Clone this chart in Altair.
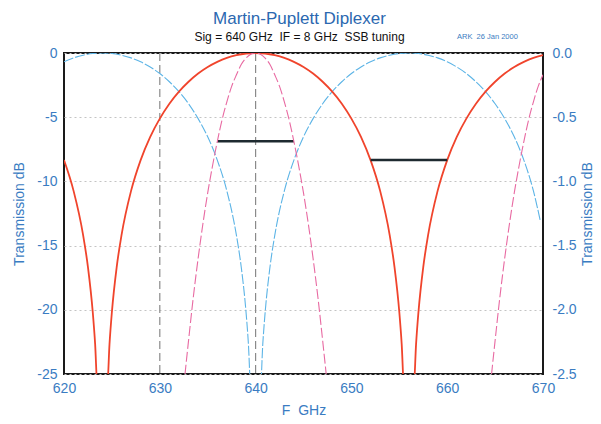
import altair as alt
import pandas as pd

# Signal-port transmission (dB), left axis
red_f = [620, 621, 622, 622.5, 623, 623.25, 623.5, 624.5, 624.75, 625, 625.5, 626, 627, 628, 629,
         630, 631, 632, 633, 634, 635, 636, 637, 638, 639, 640, 641, 642, 643, 644, 645, 646, 647,
         648, 649, 650, 651, 652, 653, 654, 654.5, 655, 655.25, 655.5, 656.5, 656.75, 657, 657.5,
         658, 659, 660, 661, 662, 663, 664, 665, 666, 667, 668, 669, 670]
red_db = [-8.34, -10.74, -14.20, -16.67, -20.17, -22.67, -26.18, -26.18, -22.67, -20.17, -16.67, -14.20,
          -10.74, -8.34, -6.53, -5.11, -3.95, -3.01, -2.24, -1.60, -1.09, -0.69, -0.38, -0.17, -0.04,
          0.0, -0.04, -0.17, -0.38, -0.69, -1.09, -1.60, -2.24, -3.01, -3.95, -5.11, -6.53, -8.34,
          -10.74, -14.20, -16.67, -20.17, -22.67, -26.18, -26.18, -22.67, -20.17, -16.67, -14.20,
          -10.74, -8.34, -6.53, -5.11, -3.95, -3.01, -2.24, -1.60, -1.09, -0.69, -0.38, -0.17]

# Image-port transmission (dB), left axis
blue_f = [620, 621, 622, 623, 624, 625, 626, 627, 628, 629, 630, 631, 632, 633, 634, 635, 636, 637,
          638, 638.5, 639, 639.25, 639.5, 640.5, 640.75, 641, 641.5, 642, 643, 644, 645, 646, 647,
          648, 649, 650, 651, 652, 653, 654, 655, 656, 657, 658, 659, 660, 661, 662, 663, 664, 665,
          666, 667, 668, 669, 669.7]
blue_db = [-0.69, -0.38, -0.17, -0.04, 0.0, -0.04, -0.17, -0.38, -0.69, -1.09, -1.60, -2.24, -3.01,
           -3.95, -5.11, -6.53, -8.34, -10.74, -14.20, -16.67, -20.17, -22.67, -26.18, -26.18, -22.67,
           -20.17, -16.67, -14.20, -10.74, -8.34, -6.53, -5.11, -3.95, -3.01, -2.24, -1.60, -1.09,
           -0.69, -0.38, -0.17, -0.04, 0.0, -0.04, -0.17, -0.38, -0.69, -1.09, -1.60, -2.24, -3.01,
           -3.95, -5.11, -6.53, -8.34, -10.74, -13.0]

# Signal-port transmission on the expanded right axis (dB)
pink_f = [632, 632.5, 633, 633.5, 634, 634.5, 635, 635.5, 636, 636.5, 637, 637.5, 638, 638.5, 639,
          639.5, 640, 640.5, 641, 641.5, 642, 642.5, 643, 643.5, 644, 644.5, 645, 645.5, 646, 646.5,
          647, 647.5, 648,
          664, 664.5, 665, 665.5, 666, 666.5, 667, 667.5, 668, 668.5, 669, 669.5, 670]
pink_db = [-3.01, -2.60, -2.24, -1.90, -1.60, -1.33, -1.09, -0.88, -0.69, -0.52, -0.38, -0.26, -0.17,
           -0.09, -0.04, -0.01, 0.0, -0.01, -0.04, -0.09, -0.17, -0.26, -0.38, -0.52, -0.69, -0.88,
           -1.09, -1.33, -1.60, -1.90, -2.24, -2.60, -3.01,
           -3.01, -2.60, -2.24, -1.90, -1.60, -1.33, -1.09, -0.88, -0.69, -0.52, -0.38, -0.26, -0.17]
pink_seg = ["a"] * 33 + ["b"] * 13

# IF band markers (8 GHz wide) and the tuning markers
bar_f1 = [636, 652]
bar_f2 = [644, 660]
bar_db = [-6.88, -8.34]
marker_f = [630, 640]

x_ticks = [620, 630, 640, 650, 660, 670]
left_ticks = [0, -5, -10, -15, -20, -25]
right_ticks = [0.0, -0.5, -1.0, -1.5, -2.0, -2.5]

FONT = "Liberation Sans"
LBL = "#3a7cc2"
HYPHEN = "replace(datum.label, '\u2212', '-')"

red_df = pd.DataFrame({"f": red_f, "db": red_db})
blue_df = pd.DataFrame({"f": blue_f, "db": blue_db})
pink_df = pd.DataFrame({"f": pink_f, "db": pink_db, "seg": pink_seg})
bar_df = pd.DataFrame({"f": bar_f1, "f2": bar_f2, "db": bar_db})
mark_df = pd.DataFrame({"f": marker_f})

x_scale = alt.Scale(domain=[620, 670], nice=False, zero=False)
x_axis = alt.Axis(values=x_ticks, title="F\u00a0\u00a0GHz", format="d", grid=False,
                  labelFlush=False, labelPadding=7, titlePadding=8)
ly_scale = alt.Scale(domain=[-25, 0], nice=False, zero=False)
ly_axis = alt.Axis(values=left_ticks, title="Transmission dB", format="d", labelExpr=HYPHEN,
                   grid=True, gridDash=[2, 3], gridColor="#c4c4c4", gridWidth=1,
                   labelFlush=False, labelPadding=7, titlePadding=10)
ry_scale = alt.Scale(domain=[-2.5, 0], nice=False, zero=False)
ry_axis = alt.Axis(values=right_ticks, title="Transmission dB", format=".1f", labelExpr=HYPHEN,
                   orient="right", grid=False, labelFlush=False, labelPadding=9, titlePadding=4,
                   titleAngle=270, titleBaseline="top")

X = alt.X("f:Q", scale=x_scale, axis=x_axis)
YL = alt.Y("db:Q", scale=ly_scale, axis=ly_axis)

markers = alt.Chart(mark_df).mark_rule(color="#8a8a8a", strokeWidth=1.2, strokeDash=[8, 4]).encode(x=X)

blue = alt.Chart(blue_df).mark_line(color="#5cb4e6", strokeWidth=1.1, strokeDash=[10, 2],
                                    clip=True, interpolate="monotone").encode(x=X, y=YL, order="f:Q")

red = alt.Chart(red_df).mark_line(color="#f0442c", strokeWidth=1.8,
                                  clip=True, interpolate="monotone").encode(x=X, y=YL, order="f:Q")

bars = alt.Chart(bar_df).mark_rule(color="#1e2a30", strokeWidth=2.5).encode(x=X, x2="f2:Q", y=YL)

left = alt.layer(markers, blue, red, bars)

pink = alt.Chart(pink_df).mark_line(color="#e86aa2", strokeWidth=1.1, strokeDash=[10, 3],
                                    clip=True, interpolate="monotone").encode(
    x=X, y=alt.Y("db:Q", scale=ry_scale, axis=ry_axis), detail="seg:N", order="f:Q")

stamp = alt.Chart(pd.DataFrame({"t": ["ARK\u00a0\u00a026 Jan 2000"]})).mark_text(
    font=FONT, fontSize=7.5, color="#3a7cc2", align="left", baseline="middle", clip=False
).encode(text="t:N", x=alt.value(393), y=alt.value(-16))

chart = alt.layer(left, pink, stamp).resolve_scale(y="independent").properties(
    width=479,
    height=321,
    background="white",
    autosize=alt.AutoSizeParams(type="none"),
    padding={"left": 64, "top": 53, "right": 58, "bottom": 50},
    title=alt.TitleParams(
        text="Martin-Puplett Diplexer",
        subtitle="Sig = 640 GHz\u00a0\u00a0IF = 8 GHz\u00a0\u00a0SSB tuning",
        font=FONT, fontSize=17, fontWeight="normal", color="#2b68b0",
        subtitleFont=FONT, subtitleFontSize=12, subtitleColor="#111111",
        anchor="middle", offset=8, subtitlePadding=4, dx=-4, dy=19,
    ),
).configure_view(
    stroke="#1a1a1a", strokeWidth=2
).configure_axis(
    domain=False, ticks=False, labelFont=FONT, titleFont=FONT, labelFontSize=14,
    titleFontSize=14, labelColor=LBL, titleColor=LBL, titleFontWeight="normal"
)

chart.save("out.html", embed_options={"renderer": "svg", "actions": False})
